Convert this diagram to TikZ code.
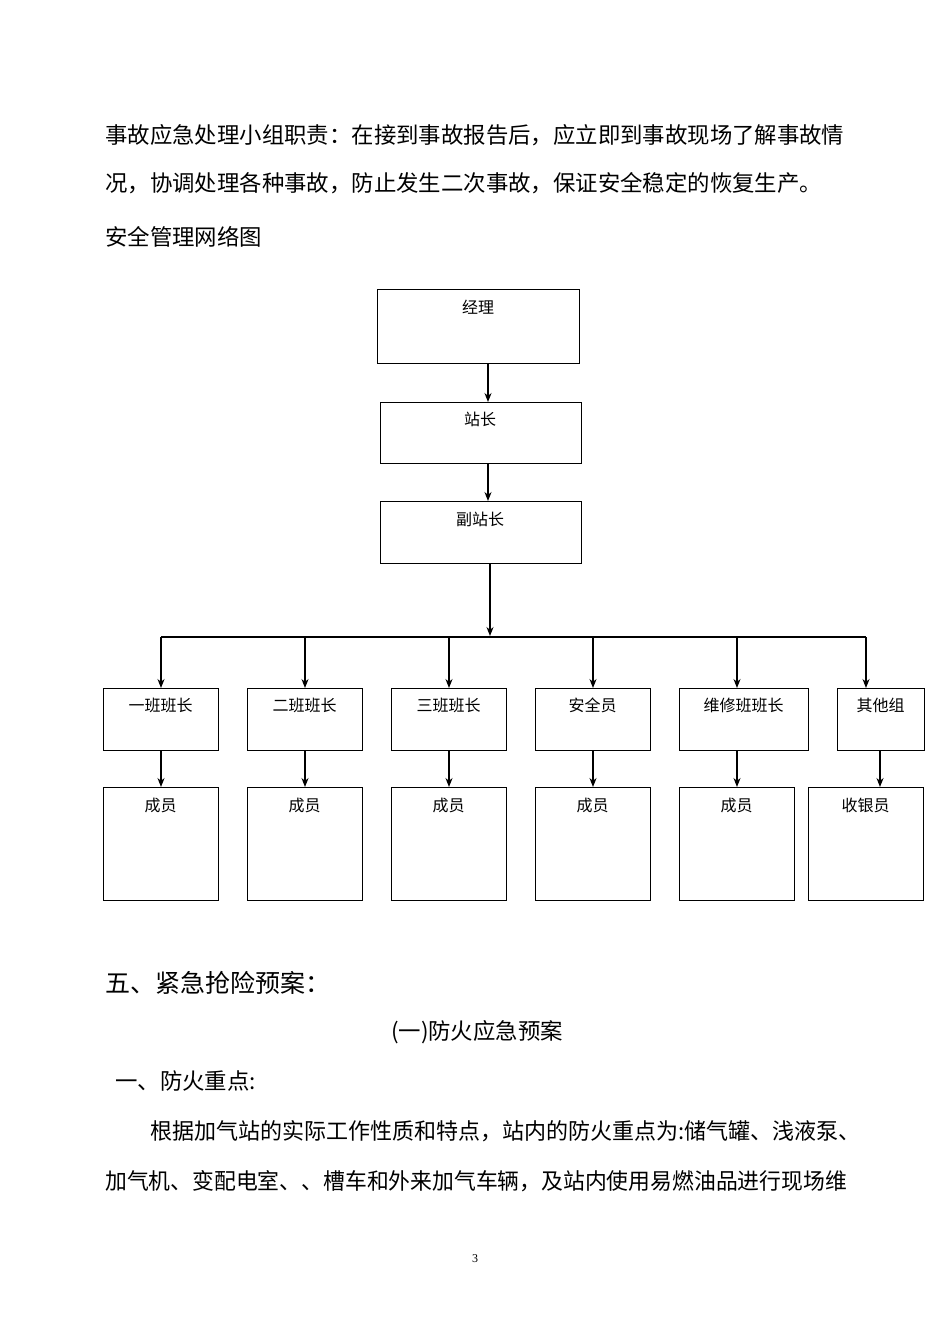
\documentclass[tikz,border=0pt]{standalone}
\usepackage{fontspec}
\setmainfont{Liberation Serif}
\newfontfamily\cjk{Noto Sans CJK SC}
\usetikzlibrary{arrows.meta}
\begin{document}
\begin{tikzpicture}[x=1pt,y=-1pt,
  box/.style={draw,line width=1.1pt,anchor=north west,inner sep=0pt},
  lab/.style={font=\cjk\fontsize{16}{16}\selectfont,inner sep=0pt},
  txt/.style={font=\cjk\fontsize{22.4}{22.4}\selectfont,anchor=west,inner sep=0pt},
  arr/.style={line width=1.3pt,-{Stealth[length=9pt,width=7pt]}}]
\useasboundingbox[fill=white] (0,0) rectangle (950,1344);
\node[txt] (t1) at (105,135) {事故应急处理小组职责：在接到事故报告后，应立即到事故现场了解事故情};
\node[txt] (t2) at (105,183) {况，协调处理各种事故，防止发生二次事故，保证安全稳定的恢复生产。};
\node[txt] (t3) at (105,237) {安全管理网络图};
% top boxes
\node[box,minimum width=202pt,minimum height=74pt] (jl) at (377,289) {};
\node[lab] at (478,307) {经理};
\node[box,minimum width=201pt,minimum height=61pt] (zz) at (380,402) {};
\node[lab] at (480,419) {站长};
\node[box,minimum width=201pt,minimum height=62pt] (fz) at (380,501) {};
\node[lab] at (480,519) {副站长};
\coordinate (j1) at (488,363); \coordinate (z1) at (488,402);
\coordinate (z2) at (488,463); \coordinate (f1) at (488,501);
\draw[arr] (j1) -- (z1);
\draw[arr] (z2) -- (f1);
\coordinate (f2) at (490,563); \coordinate (h) at (490,636);
\draw[arr] (f2) -- (h);
\coordinate (hl) at (161,637); \coordinate (hr) at (866,637);
\draw[line width=2pt] (hl) -- (hr);
% row 1
\foreach \n/\x/\w/\c/\t in {a/103/115/161/一班班长,b/247/115/305/二班班长,c/391/115/449/三班班长,d/535/115/593/安全员,e/679/129/737/维修班班长,f/837/87/866/其他组}{
  \node[box,minimum width=\w pt,minimum height=62pt] (r\n) at (\x,688) {};
  \node[lab] at (\x+\w/2,705) {\t};
  \coordinate (s\n) at (\c,637); \coordinate (e\n) at (\c,688);
  \draw[arr] (s\n) -- (e\n);
}
% row 2
\foreach \n/\x/\c/\t in {a/103/161/成员,b/247/305/成员,c/391/449/成员,d/535/593/成员,e/679/737/成员,f/808/880/收银员}{
  \node[box,minimum width=115pt,minimum height=113pt] (m\n) at (\x,787) {};
  \node[lab] at (\x+57.5,805) {\t};
  \coordinate (u\n) at (\c,750); \coordinate (v\n) at (\c,787);
  \draw[arr] (u\n) -- (v\n);
}
\node[txt,font=\cjk\fontsize{25}{25}\selectfont] (h5) at (105,983) {五、紧急抢险预案：};
\node[txt,anchor=center] (h6) at (477,1032) {(一)防火应急预案};
\node[txt] (h7) at (115,1081) {一、防火重点:};
\node[txt,xscale=0.983] (p1) at (150,1131) {根据加气站的实际工作性质和特点，站内的防火重点为:储气罐、浅液泵、};
\node[txt,xscale=0.974] (p2) at (105,1181) {加气机、变配电室、、槽车和外来加气车辆，及站内使用易燃油品进行现场维};
\node[font=\fontsize{12}{12}\selectfont,inner sep=0pt] (pg) at (475,1259) {3};
\end{tikzpicture}
\end{document}
